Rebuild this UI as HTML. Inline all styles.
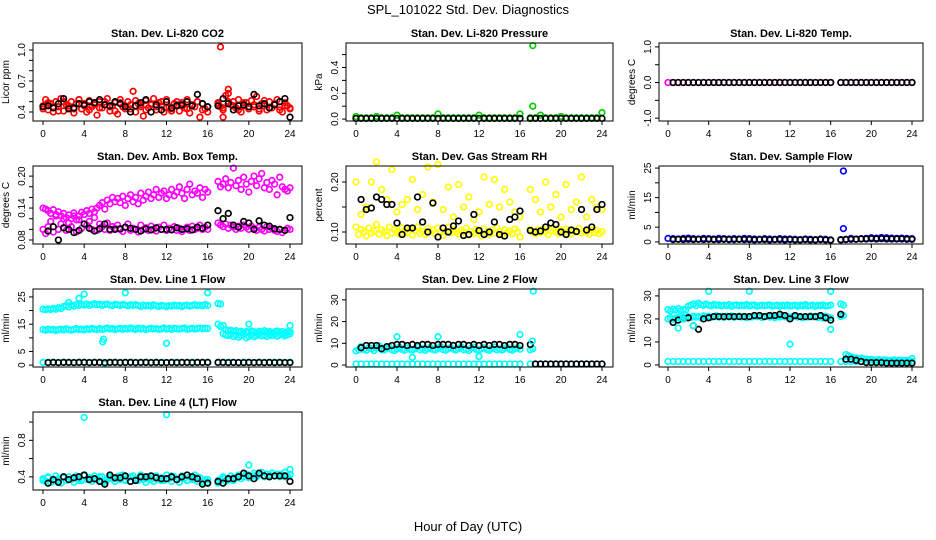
<!DOCTYPE html>
<html><head><meta charset="utf-8"><style>
body{margin:0;background:#fff;}
svg{display:block;font-family:"Liberation Sans",Arial,sans-serif;}
</style></head><body>
<svg id="chart" width="936" height="540" viewBox="0 0 936 540">
<rect width="936" height="540" fill="#fff"/>
<text x="468" y="14" text-anchor="middle" font-size="13">SPL_101022  Std. Dev. Diagnostics</text>
<text x="468" y="531" text-anchor="middle" font-size="13">Hour of Day (UTC)</text>
</svg>
<script>
const xTicks=[0,4,8,12,16,20,24];
// CO2
const co2Red=[0.46,0.52,0.42,0.48,0.40,0.50,0.45,0.53,0.41,0.47,0.44,0.50,0.39,0.48,0.52,0.43,0.46,0.40,0.51,0.45,0.48,0.37,0.50,0.44,0.47,0.53,0.41,0.46,0.49,0.38,0.52,0.45,0.43,0.50,0.47,0.60,0.40,0.48,0.45,0.36,0.51,0.44,0.47,0.53,0.42,0.49,0.46,0.40,0.52,0.45,0.43,0.48,0.50,0.41,0.46,0.44,0.52,0.39,0.47,0.45,0.50,0.35,0.48,0.43,0.40,null,null,null,0.49,0.45,0.42,0.56,0.58,0.47,0.50,0.44,0.52,0.40,0.46,0.49,0.43,0.51,0.45,0.55,0.41,0.48,0.46,0.42,0.50,0.44,0.47,0.52,0.45,0.40,0.49,0.46,0.43];
const co2Red2=[0.43,0.49,0.45,0.41,0.50,0.46,0.43,0.52,0.48,0.42,0.47,0.44,0.50,0.45,0.41,0.49,0.46,0.43,0.51,0.47,0.42,0.48,0.45,0.50,0.44,0.41,0.47,0.49,0.43,0.46,0.50,0.42,0.45,null,0.48,0.44,0.50,0.46,0.42,0.49,0.45,0.47,0.43,0.51,0.44,0.48,0.42,0.46,0.44];
const co2Black=[0.45,0.46,0.44,0.48,0.53,0.43,0.44,0.48,0.47,0.50,0.49,0.52,0.47,0.46,0.50,0.48,0.45,0.40,0.46,0.49,0.52,0.40,0.47,0.42,0.50,0.44,0.46,0.47,0.50,0.46,0.57,0.48,0.45,null,0.46,0.53,0.48,0.42,0.46,0.47,0.45,0.57,0.46,0.48,0.44,0.47,0.50,0.53,0.35];
const co2OutHours=[17.25,18.0,17.5];
const co2OutValues=[1.03,0.62,0.35];
// Pressure
const pressGreen=[0.02,0.01,0.01,0.01,0.02,0.01,0.01,0.01,0.03,0.01,0.01,0.01,0.01,0.01,0.01,0.01,0.04,0.01,0.01,0.01,0.01,0.01,0.01,0.01,0.03,0.01,0.01,0.01,0.01,0.01,0.01,0.01,0.04,null,0.01,0.01,0.03,0.01,0.01,0.01,0.02,0.01,0.01,0.01,0.01,0.01,0.01,0.01,0.05];
const pressBlack=[0.005,0.005,0.005,0.005,0.005,0.005,0.005,0.005,0.005,0.005,0.005,0.005,0.005,0.005,0.005,0.005,0.005,0.005,0.005,0.005,0.005,0.005,0.005,0.005,0.005,0.005,0.005,0.005,0.005,0.005,0.005,0.005,0.005,null,0.005,0.005,0.005,0.005,0.005,0.005,0.005,0.005,0.005,0.005,0.005,0.005,0.005,0.005,0.005];
const pressOutHours=[17.25,17.25];
const pressOutValues=[0.57,0.10];
// Li-820 temp
const tempMag=[0,0,0,0,0,0,0,0,0,0,0,0,0,0,0,0,0,0,0,0,0,0,0,0,0,0,0,0,0,0,0,0,0,null,0,0,0,0,0,0,0,0,0,0,0,0,0,0,0];
const tempBlack=[null,0,0,0,0,0,0,0,0,0,0,0,0,0,0,0,0,0,0,0,0,0,0,0,0,0,0,0,0,0,0,0,0,null,0,0,0,0,0,0,0,0,0,0,0,0,0,0,0];
// Amb box temp
const ambUpper=[.140,.138,.135,.130,.137,.128,.133,.125,.130,.122,.127,.120,.131,.118,.125,.132,.128,.135,.130,.138,.133,.140,.145,.150,.138,.155,.148,.160,.152,.158,.150,.162,.145,.158,.165,.152,.160,.148,.168,.155,.162,.170,.158,.165,.175,.160,.168,.172,.158,.165,.175,.163,.170,.180,.168,.158,.175,.185,.165,.172,.168,.178,.160,.175,.170,null,null,null,.190,.180,.185,.195,.178,.188,.215,.182,.192,.175,.198,.185,.170,.190,.200,.182,.195,.205,.178,.188,.175,.192,.185,.165,.198,.180,.175,.172,.178];
const ambLower=[.100,.092,.105,.115,.095,.125,.100,.110,.120,.098,.112,.105,.125,.095,.118,.102,.128,.108,.115,.100,.122,.098,.110,.105,.100,.112,.098,.105,.102,.108,.100,.096,.104,.110,.098,.102,.100,.095,.108,.100,.103,.098,.106,.100,.097,.104,.100,.108,.098,.102,.100,.105,.098,.102,.096,.100,.104,.098,.106,.100,.102,.108,.100,.104,.100,null,null,null,.112,.108,.105,.110,.102,.108,.104,.100,.106,.102,.108,.104,.100,.106,.102,.098,.104,.100,.097,.105,.100,.102,.098,.096,.100,.094,.098,.102,.100];
const ambBlack=[null,.097,.105,.080,.103,.100,.094,.098,.110,.102,.097,.101,.110,.100,.100,.101,.104,.102,.100,.097,.101,.099,.103,.100,.100,.099,.103,.100,.101,.099,.104,.102,.108,null,.135,.120,.130,.108,.104,.115,.112,.100,.116,.108,.106,.101,.100,.098,.122];
// RH
const rhLower=[.110,.095,.105,.100,.092,.108,.098,.102,.115,.096,.104,.100,.093,.110,.098,.105,.100,.096,.108,.102,.099,.106,.094,.103,.110,.097,.101,.095,.107,.100,.104,.096,.108,.099,.093,.102,.110,.098,.105,.100,.096,.103,.100,.108,.094,.101,.097,.105,.099,.092,.106,.100,.095,.103,.098,.108,.101,.094,.104,.099,.102,.097,.106,.100,.090,null,null,null,.105,.100,.097,.104,.099,.106,.101,.095,.103,.108,.100,.097,.104,.099,.106,.101,.096,.103,.100,.107,.098,.102,.100,.096,.104,.099,.103,.097,.101];
const rhUpper=[.200,.135,.150,.200,.240,.185,.165,.225,.140,.155,.165,.205,.145,.175,.230,.160,.235,.145,.190,.130,.195,.150,.170,.125,.140,.210,.155,.205,.150,.185,.160,.140,.130,null,.185,.165,.140,.200,.150,.175,.130,.195,.145,.160,.210,.130,.165,.150,.145];
const rhBlack=[null,.165,.145,.148,.170,.165,.155,.155,.118,.095,.108,.108,.170,.120,.100,.158,.090,.108,.100,.112,.122,.093,.095,.135,.103,.095,.100,.120,.095,.092,.125,.130,.142,null,.103,.100,.102,.110,.118,.115,.100,.095,.104,.101,.145,.104,.110,.145,.155];
// Sample flow
const sfBlue=[1.2,1.1,1.0,1.2,1.3,1.1,1.0,1.2,1.1,1.0,1.2,1.1,1.0,1.1,1.0,1.2,1.1,1.0,0.9,1.1,1.0,0.9,1.1,1.0,1.0,0.9,0.8,1.0,0.9,0.8,1.0,0.9,0.7,null,0.8,0.9,1.2,1.0,1.1,1.2,1.4,1.3,1.5,1.4,1.3,1.2,1.3,1.2,1.1];
const sfBlack=[null,0.8,0.9,0.8,0.9,0.8,0.9,0.8,0.9,0.8,0.8,0.9,0.8,0.8,0.9,0.8,0.8,0.7,0.8,0.8,0.7,0.8,0.8,0.7,0.8,0.7,0.7,0.8,0.7,0.7,0.8,0.7,0.6,null,0.7,0.8,0.9,0.9,1.0,1.0,1.1,1.0,1.1,1.0,1.0,1.0,1.0,0.9,0.9];
const sfOutHours=[17.25,17.25];
const sfOutValues=[24,4.5];
// Line 1
const l1A=[20.5,20.3,20.6,20.4,20.8,20.5,21.0,20.7,21.5,21.8,21.3,22.0,21.6,22.2,21.8,22.3,22.0,22.4,21.9,22.2,22.5,22.1,22.3,21.9,22.2,22.4,22.0,21.8,22.3,22.1,21.9,22.2,22.0,21.7,22.1,21.9,22.2,21.8,21.5,22.0,21.7,21.9,21.6,22.1,21.8,21.5,21.9,21.7,21.4,21.8,21.6,22.0,21.7,21.9,21.5,21.8,22.0,21.6,21.9,22.1,21.8,22.0,21.7,22.2,21.9,null,null,null,22.6,22.4,14.5,13.0,12.5,12.8,12.3,12.6,12.1,12.4,11.9,12.3,12.0,12.5,12.2,11.8,12.4,12.1,12.6,12.0,12.3,11.9,12.2,12.5,12.0,12.3,11.8,12.2,12.4];
const l1B=[13.0,12.8,13.2,12.9,13.1,12.7,13.0,13.2,12.9,13.3,13.0,12.8,13.1,13.4,13.0,13.2,12.9,13.3,13.1,13.5,13.2,13.0,13.4,13.1,13.3,13.6,13.2,13.4,13.0,13.3,13.5,13.1,13.4,13.2,13.6,13.3,13.1,13.5,13.2,13.4,13.0,13.3,13.5,13.2,13.4,13.1,13.3,13.6,13.2,13.4,13.1,13.5,13.3,13.2,13.4,13.6,13.1,13.3,13.5,13.2,13.4,13.6,13.3,13.5,13.4,null,null,null,15.0,14.2,11.5,11.0,10.8,11.3,10.5,11.0,10.2,10.8,11.2,10.0,10.6,11.1,10.4,10.9,11.3,10.7,11.0,10.5,11.2,10.8,11.4,10.6,11.0,11.3,10.7,11.1,11.5];
const l1C=[1.0,1.0,1.1,1.0,1.1,1.0,1.0,1.1,1.0,1.0,1.1,1.0,0.5,1.0,1.1,1.0,1.0,1.1,1.0,1.0,1.1,1.0,1.0,1.1,1.0,1.0,1.1,1.0,1.0,1.1,1.0,1.0,1.1,null,1.0,1.0,1.1,1.0,1.0,1.1,1.0,1.0,1.1,1.0,1.0,1.1,1.0,1.0,1.1];
const l1Black=[null,0.9,1.0,0.9,1.0,1.0,0.9,1.0,1.0,0.9,1.0,1.0,0.9,1.0,1.0,0.9,1.0,1.0,0.9,1.0,1.0,0.9,1.0,0.9,0.9,1.0,0.9,1.0,1.0,0.9,1.0,1.0,1.0,null,1.0,1.0,0.9,1.0,0.9,0.9,1.0,0.9,1.0,0.9,1.0,0.9,1.0,0.9,0.9];
const l1OutHours=[3.5,4,5.8,5.9,8,12,16,2.5,20,24];
const l1OutValues=[24.5,26,8.5,9.5,26.5,8,26.5,23,15,14.5];
// Line 2
const l2A=[6.5,7.0,8.5,7.2,6.8,8.0,7.5,6.6,7.8,8.8,7.1,6.9,7.6,8.4,7.0,6.7,7.4,8.2,7.2,6.8,7.9,7.3,6.9,7.5,8.3,7.0,7.6,6.8,7.4,8.1,7.2,6.9,7.7,8.5,7.1,6.8,7.5,8.0,7.3,6.9,7.6,8.4,7.0,7.3,6.7,7.8,8.2,7.1,6.9,7.5,8.0,7.2,6.8,7.6,8.3,7.0,7.4,6.9,7.7,8.1,7.2,6.8,7.5,8.0,7.3,null,null,null,7.0,7.5,null,null,null,null,null,null,null,null,null,null,null,null,null,null,null,null,null,null,null,null,null,null,null,null,null,null,null];
const l2B=[0.5,0.5,0.5,0.5,0.5,0.5,0.5,0.5,0.5,0.5,0.5,0.5,0.5,0.5,0.5,0.5,0.5,0.5,0.5,0.5,0.5,0.5,0.5,0.5,0.5,0.5,0.5,0.5,0.5,0.5,0.5,0.5,0.5,null,0.5,0.5,0.5,0.5,0.5,0.5,0.5,0.5,0.5,0.5,0.5,0.5,0.5,0.5,0.5];
const l2Black=[null,8.0,9.0,9.0,9.0,7.5,8.5,9.0,9.5,9.5,9.0,9.5,9.0,9.5,9.5,9.0,9.5,9.5,9.5,9.0,9.5,9.5,9.0,9.5,9.0,9.5,9.0,9.5,9.5,9.0,9.5,9.5,9.0,null,9.5,0.5,0.5,0.5,0.5,0.5,0.5,0.5,0.5,0.5,0.5,0.5,0.5,0.5,0.5];
const l2OutHours=[17.3,4,8,16,12,5.5,17.2];
const l2OutValues=[34,13,13,14,4,3.5,11];
// Line 3
const l3A=[24.0,23.5,24.2,23.8,24.5,23.6,24.1,23.9,25.5,26.0,26.5,25.8,26.8,26.2,25.9,26.5,26.0,25.7,26.3,25.9,26.1,25.6,26.0,25.8,26.2,25.5,25.9,26.1,25.7,26.0,25.8,26.2,25.6,25.9,26.1,25.5,25.8,26.0,25.7,25.9,26.1,25.6,25.8,26.0,25.5,25.9,25.7,26.1,25.6,25.8,26.0,25.5,25.9,25.7,26.2,25.6,25.8,26.0,25.5,25.9,25.7,26.1,25.6,25.8,26.0,null,null,null,26.5,26.0,null,null,null,null,null,null,null,null,null,null,null,null,null,null,null,null,null,null,null,null,null,null,null,null,null,null,null];
const l3B=[20.0,20.5,19.8,20.3,20.6,20.0,20.8,20.4,21.0,20.6,21.2,20.8,21.0,20.5,21.3,20.9,21.1,20.7,21.0,21.4,20.8,21.1,20.6,21.2,20.9,21.3,20.7,21.0,21.2,20.8,21.1,20.5,21.0,20.8,21.3,20.9,21.1,20.6,21.0,21.2,20.8,21.1,20.5,21.0,20.8,21.3,20.9,21.1,20.6,21.0,21.2,20.8,21.1,20.5,21.0,20.8,21.3,20.9,21.1,20.6,21.0,20.4,21.2,20.8,20.5,null,null,null,21.0,21.5,4.5,4.0,3.5,3.2,3.0,2.8,2.9,2.6,2.5,2.3,2.4,2.2,2.1,2.3,2.0,2.2,2.1,1.9,2.0,2.2,1.9,2.1,2.0,1.8,2.0,1.9,2.8];
const l3C=[1.5,1.5,1.5,1.5,1.5,1.5,1.5,1.5,1.5,1.5,1.5,1.5,1.5,1.5,1.5,1.5,1.5,1.5,1.5,1.5,1.5,1.5,1.5,1.5,1.5,1.5,1.5,1.5,1.5,1.5,1.5,1.5,1.5,null,1.5,1.5,1.5,1.5,1.5,1.5,1.5,1.5,1.5,1.5,1.5,1.5,1.5,1.5,1.5];
const l3Black=[null,18.5,19.5,20,20.5,17,15.5,20,20.5,21,21,21,21,21,21,21,21,21.5,21.5,21,21.5,21.5,22,21.5,20,21.5,21,21,21,21,21.5,20.5,19.5,null,22,2.5,2.5,2,1.5,1,1,1,1,0.8,0.8,0.8,0.8,0.8,0.8];
const l3OutHours=[4,8,16,12,1,16,1.5,2.5];
const l3OutValues=[32,32,32,9,16,15.5,20,17];
// Line 4
const l4A=[0.38,0.35,0.40,0.34,0.37,0.41,0.36,0.33,0.39,0.36,0.40,0.37,0.34,0.41,0.38,0.36,0.42,0.37,0.39,0.35,0.41,0.38,0.36,0.40,0.34,0.37,0.41,0.38,0.35,0.40,0.37,0.42,0.36,0.39,0.35,0.41,0.38,0.36,0.42,0.37,0.34,0.40,0.38,0.35,0.41,0.37,0.39,0.36,0.42,0.38,0.35,0.40,0.37,0.34,0.41,0.38,0.36,0.40,0.37,0.42,0.35,0.39,0.33,0.37,0.34,null,null,null,0.33,0.37,0.40,0.35,0.38,0.41,0.36,0.39,0.42,0.38,0.40,0.43,0.39,0.41,0.44,0.40,0.42,0.45,0.41,0.43,0.40,0.44,0.41,0.43,0.40,0.42,0.45,0.41,0.43];
const l4B=[0.36,0.39,0.35,0.38,0.40,0.37,0.39,0.36,0.41,0.38,0.37,0.40,0.36,0.39,0.38,0.41,0.37,0.40,0.36,0.39,0.38,0.37,0.40,0.36,0.38,0.41,0.37,0.39,0.36,0.38,0.40,0.35,0.37,null,0.36,0.38,0.37,0.39,0.41,0.40,0.42,0.41,0.43,0.40,0.42,0.41,0.43,0.40,0.42];
const l4Black=[null,0.33,0.37,0.34,0.40,0.37,0.39,0.40,0.42,0.37,0.38,0.35,0.32,0.42,0.39,0.39,0.41,0.35,0.36,0.40,0.40,0.41,0.39,0.38,0.38,0.40,0.37,0.40,0.42,0.40,0.38,0.32,0.33,null,0.35,0.33,0.38,0.38,0.40,0.44,0.41,0.38,0.44,0.41,0.40,0.41,0.41,0.41,0.35];
const l4OutHours=[4,12,20,24];
const l4OutValues=[1.05,1.08,0.53,0.48];

const NS='http://www.w3.org/2000/svg';
const svg=document.getElementById('chart');
const cols=[{l:33,r:302,x0:43,x24:290},{l:346,r:613,x0:356,x24:602},{l:659,r:923,x0:668,x24:912}];
const rowTops=[43,166,289,412];
const BOXH=78;
function mk(tag,attrs,parent){const e=document.createElementNS(NS,tag);for(const k in attrs)e.setAttribute(k,attrs[k]);(parent||svg).appendChild(e);return e;}

function panel(key,row,col,title,ylab,ymin,ymax,yTicks,yLabels,series){
  const c=cols[col],top=rowTops[row],bot=top+BOXH;
  const g=mk('g',{});
  
  
  const sx=h=>c.x0+(c.x24-c.x0)*h/24;
  const sy=v=>bot-(v-ymin)/(ymax-ymin)*BOXH;
  const t=mk('text',{x:(c.l+c.r)/2,y:top-6,'text-anchor':'middle','font-size':11,'font-weight':'bold'},g);
  t.textContent=title;
  
  
  const yl=mk('text',{transform:`translate(${c.l-24},${top+BOXH/2}) rotate(-90)`,'text-anchor':'middle','font-size':10},g);
  yl.textContent=ylab;
  
  
  series.forEach(s=>{
    const sg=mk('g',{fill:'none',stroke:s.color,'stroke-width':1.7},g);
    
    
    s.values.forEach((v,i)=>{
      if(v===null||v===undefined)return;
      const h=s.hours?s.hours[i]:i*24/(s.values.length-1);
      const p=mk('circle',{cx:sx(h).toFixed(1),cy:sy(v).toFixed(1),r:2.8},sg);
      
      
    });
  });
  const box=mk('rect',{x:c.l,y:top,width:c.r-c.l,height:BOXH,fill:'none',stroke:'#000','stroke-width':1},g);
  
  
  const xa=mk('g',{},g);
  
  
  mk('line',{x1:sx(0),x2:sx(24),y1:bot,y2:bot,stroke:'#000'},xa);
  xTicks.forEach(h=>{
    mk('line',{x1:sx(h),x2:sx(h),y1:bot,y2:bot+4,stroke:'#000'},xa);
    const tl=mk('text',{x:sx(h),y:bot+16,'text-anchor':'middle','font-size':10},xa);
    tl.textContent=h;
    
    
  });
  const ya=mk('g',{},g);
  
  
  mk('line',{x1:c.l,x2:c.l,y1:sy(yTicks[0]),y2:sy(yTicks[yTicks.length-1]),stroke:'#000'},ya);
  yTicks.forEach(v=>{mk('line',{x1:c.l-4,x2:c.l,y1:sy(v),y2:sy(v),stroke:'#000'},ya);});
  yLabels.forEach(lbl=>{
    const v=parseFloat(lbl);
    const tl=mk('text',{transform:`translate(${c.l-8},${sy(v)}) rotate(-90)`,'text-anchor':'middle','font-size':10},ya);
    tl.textContent=lbl;
    
    
  });
}
const R='#ff0000',K='#000000',G='#00cc00',M='#ff00ff',Y='#ffff00',B='#0000ff',C='#00ffff';
panel('co2',0,0,'Stan. Dev. Li-820 CO2','Licor ppm',0.313,1.068,[0.4,0.5,0.6,0.7,0.8,0.9,1.0],['0.4','0.7','1.0'],
 [{name:'red-series',color:R,values:co2Red},{name:'red-series-2',color:R,values:co2Red2},{name:'black-series',color:K,values:co2Black},{name:'outliers',color:R,values:co2OutValues,hours:co2OutHours}]);
panel('pressure',0,1,'Stan. Dev. Li-820 Pressure','kPa',-0.015,0.59,[0,0.1,0.2,0.3,0.4,0.5],['0.0','0.2','0.4'],
 [{name:'green-series',color:G,values:pressGreen},{name:'black-series',color:K,values:pressBlack},{name:'outliers',color:G,values:pressOutValues,hours:pressOutHours}]);
panel('temp',0,2,'Stan. Dev. Li-820 Temp.','degrees C',-1.08,1.11,[-1,-0.5,0,0.5,1],['-1.0','0.0','1.0'],
 [{name:'magenta-series',color:M,values:tempMag},{name:'black-series',color:K,values:tempBlack}]);
panel('amb-temp',1,0,'Stan. Dev. Amb. Box Temp.','degrees C',0.0725,0.219,[0.08,0.10,0.12,0.14,0.16,0.18,0.20],['0.08','0.14','0.20'],
 [{name:'magenta-upper',color:M,values:ambUpper},{name:'magenta-lower',color:M,values:ambLower},{name:'black-series',color:K,values:ambBlack}]);
panel('rh',1,1,'Stan. Dev. Gas Stream RH','percent',0.076,0.232,[0.10,0.15,0.20],['0.10','0.20'],
 [{name:'yellow-lower',color:Y,values:rhLower},{name:'yellow-upper',color:Y,values:rhUpper},{name:'black-series',color:K,values:rhBlack}]);
panel('sample-flow',1,2,'Stan. Dev. Sample Flow','ml/min',-0.7,25.7,[0,5,10,15,20,25],['0','5','15','25'],
 [{name:'blue-series',color:B,values:sfBlue},{name:'black-series',color:K,values:sfBlack},{name:'outliers',color:B,values:sfOutValues,hours:sfOutHours}]);
panel('line1',2,0,'Stan. Dev. Line 1 Flow','ml/min',-0.7,27.9,[0,5,10,15,20,25],['0','5','15','25'],
 [{name:'cyan-a',color:C,values:l1A},{name:'cyan-b',color:C,values:l1B},{name:'cyan-c',color:C,values:l1C},{name:'black-series',color:K,values:l1Black},{name:'outliers',color:C,values:l1OutValues,hours:l1OutHours}]);
panel('line2',2,1,'Stan. Dev. Line 2 Flow','ml/min',-0.9,35,[0,10,20,30],['0','10','20','30'],
 [{name:'cyan-a',color:C,values:l2A},{name:'cyan-b',color:C,values:l2B},{name:'black-series',color:K,values:l2Black},{name:'outliers',color:C,values:l2OutValues,hours:l2OutHours}]);
panel('line3',2,2,'Stan. Dev. Line 3 Flow','ml/min',-0.9,33,[0,10,20,30],['0','10','20','30'],
 [{name:'cyan-a',color:C,values:l3A},{name:'cyan-b',color:C,values:l3B},{name:'cyan-c',color:C,values:l3C},{name:'black-series',color:K,values:l3Black},{name:'outliers',color:C,values:l3OutValues,hours:l3OutHours}]);
panel('line4',3,0,'Stan. Dev. Line 4 (LT) Flow','ml/min',0.256,1.11,[0.4,0.6,0.8,1.0],['0.4','0.8'],
 [{name:'cyan-a',color:C,values:l4A},{name:'cyan-b',color:C,values:l4B},{name:'black-series',color:K,values:l4Black},{name:'outliers',color:C,values:l4OutValues,hours:l4OutHours}]);
</script>
</body></html>
